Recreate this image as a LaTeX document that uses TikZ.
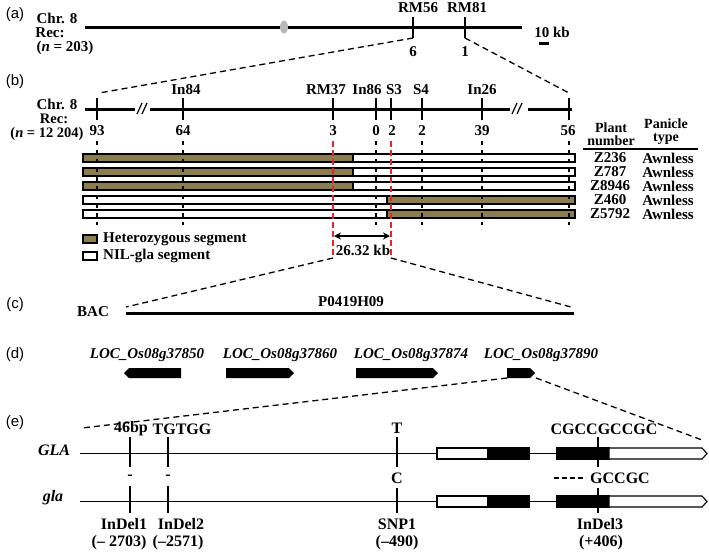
\documentclass[tikz,border=0pt]{standalone}
\usepackage{fontspec}
\setmainfont{Liberation Serif}
\setsansfont{Liberation Sans}
\usetikzlibrary{arrows.meta}
\definecolor{hetcol}{RGB}{139,125,78}
\definecolor{cutred}{RGB}{225,40,40}
\tikzset{
  lbl/.style={font=\bfseries\fontsize{15}{15}\selectfont,inner sep=0pt},
  seq/.style={font=\bfseries\fontsize{16}{16}\selectfont,inner sep=0pt},
  gname/.style={font=\bfseries\itshape\fontsize{15}{15}\selectfont,inner sep=0pt},
  panel/.style={font=\sffamily\fontsize{15}{15}\selectfont,inner sep=0pt},
  head/.style={font=\bfseries\fontsize{14}{13}\selectfont,inner sep=0pt,align=center},
  chrline/.style={line width=3pt},
  marker/.style={line width=1.5pt},
  zoomline/.style={line width=1.3pt,dash pattern=on 6pt off 4pt},
  guide/.style={line width=1.2pt,dash pattern=on 4pt off 5pt},
  redguide/.style={cutred,line width=1.3pt,dash pattern=on 6pt off 3pt},
  hetbar/.style={draw,line width=1.1pt,fill=hetcol},
  nilbar/.style={draw,line width=1.1pt,fill=white},
  exon/.style={draw,line width=1.1pt,fill=black},
  utr/.style={draw,line width=1.1pt,fill=white},
}
\begin{document}
\begin{tikzpicture}[x=1pt,y=-1pt]
  \useasboundingbox (0,0) rectangle (709,552);
  % (a) chromosome 8
  \node[panel] (pa) at (15,15) {(a)};
  \node[lbl] (chra) at (57,18) {Chr. 8};
  \node[lbl] (reca) at (50,33) {Rec:};
  \node[lbl] (na) at (65,48) {(\textit{n} = 203)};
  \draw[chrline] (85,27) -- (522,27);
  \fill[gray!55] (284,27) ellipse [x radius=4pt,y radius=6.5pt];
  % markers
  \draw[marker] (413,17) -- (413,38) coordinate (rm56a);
  \draw[marker] (465,17) -- (465,38) coordinate (rm81a);
  \node[lbl] (rm56) at (418,8) {RM56};
  \node[lbl] (rm81) at (467,8) {RM81};
  \node[lbl] (rec6) at (413,52) {6};
  \node[lbl] (rec1) at (465,52) {1};
  % scale bar
  \node[lbl] (tenkb) at (552,32) {10 kb};
  \draw[chrline] (539,43) -- (549,43);
  % zoom a -> b
  \coordinate (b93top) at (99,93);
  \coordinate (b56top) at (569,93);
  \draw[zoomline] (rm56a) -- (b93top);
  \draw[zoomline] (rm81a) -- (b56top);

  % (b) fine mapping
  \node[panel] (pb) at (15,82) {(b)};
  \node[lbl] (chrb) at (57,104) {Chr. 8};
  \node[lbl,font=\bfseries\fontsize{14.5}{14.5}\selectfont] (recb) at (54,119) {Rec:};
  \node[lbl,font=\bfseries\fontsize{14.5}{14.5}\selectfont] (nb) at (47,134) {(\textit{n} = 12 204)};
  \draw[chrline] (85,109) -- (135,109);
  \draw[chrline] (150,109) -- (510,109);
  \draw[chrline] (528,109) -- (572,109);
  % breaks
  \draw[line width=1.2pt] (137,114) -- (142,103) (142,114) -- (147,103);
  \draw[line width=1.2pt] (512,114) -- (517,103) (517,114) -- (522,103);
  % markers
  \draw[marker] (97,98) -- (97,120);
  \draw[marker] (183,98) -- (183,120);
  \draw[marker] (333,98) -- (333,120);
  \draw[marker] (376,98) -- (376,120);
  \draw[marker] (391,98) -- (391,120);
  \draw[marker] (422,98) -- (422,120);
  \draw[marker] (482,98) -- (482,120);
  \draw[marker] (569,98) -- (569,120);
  \node[lbl] (in84) at (186,90) {In84};
  \node[lbl] (rm37) at (326,90) {RM37};
  \node[lbl] (in86) at (367,90) {In86};
  \node[lbl] (s3) at (394,90) {S3};
  \node[lbl] (s4) at (421,90) {S4};
  \node[lbl] (in26) at (482,90) {In26};
  % recombinants
  \node[lbl] (r93) at (97,131) {93};
  \node[lbl] (r64) at (183,131) {64};
  \node[lbl] (r3) at (333,131) {3};
  \node[lbl] (r0) at (376,131) {0};
  \node[lbl] (r2a) at (392,131) {2};
  \node[lbl] (r2b) at (422,131) {2};
  \node[lbl] (r39) at (482,131) {39};
  \node[lbl] (r56) at (568,131) {56};
  % segments
  \draw[hetbar] (83,154) rectangle (353,162);
  \draw[nilbar] (353,154) rectangle (575,162);
  \draw[hetbar] (83,168) rectangle (353,176);
  \draw[nilbar] (353,168) rectangle (575,176);
  \draw[hetbar] (83,182) rectangle (353,190);
  \draw[nilbar] (353,182) rectangle (575,190);
  \draw[nilbar] (83,196) rectangle (387,204);
  \draw[hetbar] (387,196) rectangle (575,204);
  \draw[nilbar] (83,210) rectangle (387,218);
  \draw[hetbar] (387,210) rectangle (575,218);
  % guides
  \draw[guide] (97,141) -- (97,225);
  \draw[guide] (183,141) -- (183,225);
  \draw[guide] (376,141) -- (376,225);
  \draw[guide] (422,141) -- (422,225);
  \draw[guide] (482,141) -- (482,225);
  \draw[guide] (569,141) -- (569,225);
  \draw[redguide] (333,141) -- (333,258) coordinate (redl);
  \draw[redguide] (391,141) -- (391,258) coordinate (redr);
  % interval
  \coordinate (arrl) at (334,236);
  \coordinate (arrr) at (390,236);
  \draw[{Stealth[length=7pt,width=7pt]}-{Stealth[length=7pt,width=7pt]},line width=1.6pt] (arrl) -- (arrr);
  \node[lbl] (kb26) at (363,250) {26.32 kb};
  % legend
  \draw[hetbar] (83,235) rectangle (97,243);
  \node[lbl,anchor=west] (hetleg) at (103,239) {Heterozygous segment};
  \draw[nilbar] (83,252) rectangle (97,260);
  \node[lbl,anchor=west] (nilleg) at (103,256) {NIL-gla segment};
  % table
  \node[head] (plantno) at (611,134) {Plant\\number};
  \node[head] (panicle) at (666,132) {Panicle\\type};
  \draw[line width=1.2pt] (583,149) -- (698,149);
  \node[lbl] (z236) at (610,158) {Z236};
  \node[lbl] (z787) at (610,172) {Z787};
  \node[lbl] (z8946) at (610,186) {Z8946};
  \node[lbl] (z460) at (610,200) {Z460};
  \node[lbl] (z5792) at (610,214) {Z5792};
  \node[lbl] (aw1) at (668,158) {Awnless};
  \node[lbl] (aw2) at (668,172) {Awnless};
  \node[lbl] (aw3) at (668,186) {Awnless};
  \node[lbl] (aw4) at (668,200) {Awnless};
  \node[lbl] (aw5) at (668,214) {Awnless};
  % zoom b -> c
  \coordinate (bacl) at (126,307);
  \coordinate (bacr) at (571,307);
  \draw[zoomline] (redl) -- (bacl);
  \draw[zoomline] (redr) -- (bacr);

  % (c) BAC
  \node[panel] (pc) at (15,305) {(c)};
  \node[lbl] (bac) at (93,312) {BAC};
  \draw[chrline] (126,313) -- (574,313);
  \node[lbl] (p0419) at (351,302) {P0419H09};

  % (d) genes
  \node[panel] (pd) at (15,355) {(d)};
  \node[gname] (loc850) at (147,355) {LOC\_Os08g37850};
  \node[gname] (loc860) at (280,355) {LOC\_Os08g37860};
  \node[gname] (loc874) at (411,355) {LOC\_Os08g37874};
  \node[gname] (loc890) at (541,355) {LOC\_Os08g37890};
  \fill (181,368) -- (129,368) -- (124,373) -- (129,378) -- (181,378) -- cycle;
  \fill (226,368) -- (289,368) -- (294,373) -- (289,378) -- (226,378) -- cycle;
  \fill (356,368) -- (433,368) -- (438,373) -- (433,378) -- (356,378) -- cycle;
  \fill (507,368) -- (530,368) -- (535,373) -- (530,378) -- (507,378) -- cycle;
  % zoom d -> e
  \coordinate (g890l) at (507,378);
  \coordinate (g890r) at (536,378);
  \coordinate (el) at (82,428);
  \coordinate (er) at (702,440);
  \draw[zoomline] (g890l) -- (el);
  \draw[zoomline] (g890r) -- (er);

  % (e) gene structure
  \node[panel] (pe) at (15,423) {(e)};
  \node[seq,font=\bfseries\itshape\fontsize{16}{16}\selectfont] (glaup) at (54,450) {GLA};
  \node[seq,font=\bfseries\itshape\fontsize{16}{16}\selectfont] (glalow) at (53,498) {gla};
  % GLA allele
  \draw[line width=1.2pt] (80,453.5) -- (437,453.5);
  \draw[utr] (437,448) rectangle (488,459);
  \draw[exon] (488,448) rectangle (529,459);
  \draw[line width=1.2pt] (529,453.5) -- (557,453.5);
  \draw[exon] (557,448) rectangle (609,459);
  \draw[utr] (609,448) -- (702,448) -- (707,453.5) -- (702,459) -- (609,459) -- cycle;
  % gla allele
  \draw[line width=1.2pt] (80,501.5) -- (437,501.5);
  \draw[utr] (437,496) rectangle (488,507);
  \draw[exon] (488,496) rectangle (529,507);
  \draw[line width=1.2pt] (529,501.5) -- (557,501.5);
  \draw[exon] (557,496) rectangle (609,507);
  \draw[utr] (609,496) -- (702,496) -- (707,501.5) -- (702,507) -- (609,507) -- cycle;
  % variants
  \draw[marker] (130,437) -- (130,467);
  \draw[marker] (168,437) -- (168,467);
  \draw[marker] (397,437) -- (397,467);
  \draw[marker] (598,437) -- (598,467);
  \draw[marker] (130,486) -- (130,513);
  \draw[marker] (168,486) -- (168,513);
  \draw[marker] (397,488) -- (397,513);
  \draw[marker] (598,488) -- (598,513);
  \node[seq] (bp46) at (131,429) {46bp};
  \node[seq] (tgtgg) at (182,429) {TGTGG};
  \node[seq] (snpt) at (397,428) {T};
  \node[seq] (cgc) at (604,429) {CGCCGCCGC};
  \node[seq] (del1) at (130,477) {-};
  \node[seq] (del2) at (168,477) {-};
  \node[seq] (snpc) at (397,478) {C};
  \node[seq] (gccgc) at (620,478) {GCCGC};
  \draw[line width=1.2pt,dash pattern=on 5pt off 3pt] ([xshift=-36pt]gccgc.west) -- ([xshift=-4pt]gccgc.west);
  \node[seq] (indel1) at (124,524) {InDel1};
  \node[seq] (pos1) at (119,543) {(-- 2703)};
  \node[seq] (indel2) at (181,524) {InDel2};
  \node[seq] (pos2) at (178,543) {(--2571)};
  \node[seq] (snp1) at (397,524) {SNP1};
  \node[seq] (pos3) at (397,543) {(--490)};
  \node[seq] (indel3) at (600,524) {InDel3};
  \node[seq] (pos4) at (601,543) {(+406)};
\end{tikzpicture}
\end{document}
